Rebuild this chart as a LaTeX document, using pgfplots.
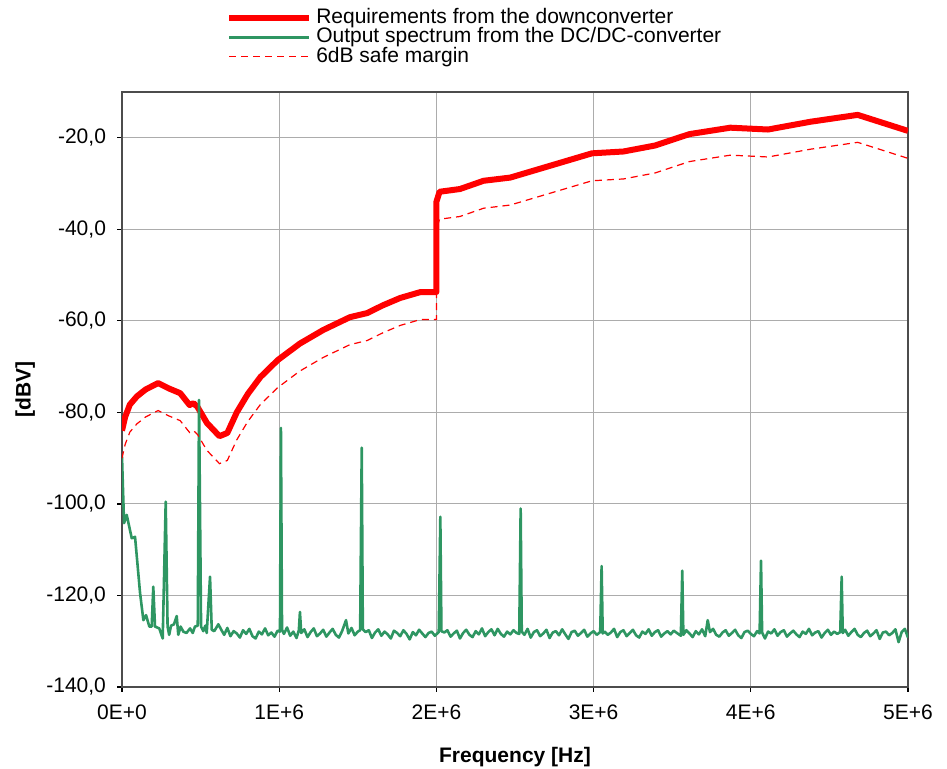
\documentclass[border=0pt]{standalone}
\usepackage{fontspec}
\setmainfont{Liberation Sans}
\usepackage{pgfplots}
\pgfplotsset{compat=1.18}

\definecolor{reqred}{RGB}{255,0,0}
\definecolor{specgreen}{RGB}{46,150,98}

\begin{document}
\begin{tikzpicture}
\useasboundingbox (-61pt,-41pt) rectangle (412.5pt,343.5pt);
\begin{axis}[
    scale only axis,
    width=393pt, height=297.5pt,
    xmin=0, xmax=5,
    ymin=-140, ymax=-10,
    xtick={0,1,2,3,4,5},
    xticklabels={0E+0,1E+6,2E+6,3E+6,4E+6,5E+6},
    ytick={-140,-120,-100,-80,-60,-40,-20},
    yticklabels={{-140,0},{-120,0},{-100,0},{-80,0},{-60,0},{-40,0},{-20,0}},
    font=\fontsize{10.5}{12.6}\selectfont,
    tick align=outside,
    major tick length=2.5pt,
    tick style={black, line width=0.6pt},
    xtick pos=bottom, ytick pos=left,
    grid=major,
    major grid style={gray!65, line width=0.5pt},
    axis line style={draw=black!70, line width=1pt},
    xticklabel style={yshift=-3pt},
    yticklabel style={xshift=-2pt},
    xlabel={\textbf{Frequency [Hz]}},
    ylabel={\textbf{[dBV]}},
    xlabel style={at={(axis description cs:0.5,-0.118)}, anchor=center},
    ylabel style={at={(axis description cs:-0.123,0.5)}, anchor=center, rotate=0},
    legend style={draw=none, fill=none, at={(0.1245,1.148)}, anchor=north west,
        font=\fontsize{10.5}{10}\selectfont,
        nodes={inner ysep=0pt, text height=7.6pt, text depth=2.1pt},
        /tikz/every even column/.append style={column sep=0pt}},
    legend cell align=left,
    legend image code/.code={\draw[#1] (0pt,0pt) -- (40pt,0pt);},
]
% requirements from the downconverter
\addplot[reqred, line width=3pt, line join=round] coordinates {
    (0.00,-84.0) (0.02,-81.0) (0.05,-78.3) (0.095,-76.5) (0.15,-75.0)
    (0.23,-73.6) (0.30,-74.8) (0.37,-75.8) (0.43,-78.4) (0.455,-78.0)
    (0.48,-78.8) (0.54,-82.3) (0.62,-85.2) (0.67,-84.5) (0.73,-80.0)
    (0.80,-76.0) (0.88,-72.3) (0.99,-68.6) (1.13,-65.0) (1.28,-62.0)
    (1.45,-59.2) (1.56,-58.3) (1.66,-56.6) (1.77,-55.0) (1.90,-53.7)
    (2.00,-53.7) (2.00,-34.0) (2.02,-31.8) (2.15,-31.2) (2.30,-29.4)
    (2.47,-28.7) (2.99,-23.4) (3.19,-23.0) (3.39,-21.7) (3.61,-19.2)
    (3.87,-17.8) (4.11,-18.2) (4.38,-16.5) (4.68,-15.0) (5.00,-18.5)
};
\addlegendentry{Requirements from the downconverter}

% output spectrum
\addplot[specgreen, line width=1.3pt, line join=round] coordinates {
    (0.000,-89.7) (0.013,-104.2) (0.030,-102.4) (0.062,-107.5) (0.083,-107.2)
    (0.115,-119.5) (0.136,-125.4) (0.153,-124.3) (0.174,-126.8) (0.189,-126.8)
    (0.199,-118.1) (0.210,-126.8) (0.237,-127.2) (0.259,-129.4) (0.278,-99.5)
    (0.290,-126.8) (0.300,-128.6) (0.312,-126.6) (0.331,-126.3) (0.348,-124.5)
    (0.358,-128.6) (0.373,-126.8) (0.390,-127.9) (0.410,-128.2) (0.433,-127.2)
    (0.450,-128.2) (0.464,-126.8) (0.482,-126.6) (0.490,-77.3) (0.503,-126.8)
    (0.517,-127.8) (0.530,-126.6) (0.539,-128.2) (0.560,-115.9) (0.571,-127.5)
    (0.587,-127.8) (0.613,-126.3) (0.63,-127.4) (0.65,-128.6) (0.67,-127.1)
    (0.69,-128.9) (0.71,-127.8) (0.73,-128.3) (0.75,-129.2) (0.77,-127.6)
    (0.79,-128.4) (0.81,-127.3) (0.83,-128.9) (0.85,-129.4) (0.87,-127.9)
    (0.89,-128.5) (0.91,-127.2) (0.93,-128.7) (0.95,-128.1) (0.97,-129.0)
    (0.99,-127.7) (1.005,-127.9) (1.011,-83.4) (1.018,-127.5) (1.03,-128.4)
    (1.05,-127.0) (1.07,-128.8) (1.09,-127.9) (1.11,-129.3) (1.125,-127.6)
    (1.132,-123.6) (1.14,-128.2) (1.16,-127.4) (1.18,-129.1) (1.20,-128.0)
    (1.22,-127.2) (1.24,-128.9) (1.26,-128.3) (1.28,-127.5) (1.30,-129.0)
    (1.32,-128.1) (1.34,-127.3) (1.36,-128.6) (1.38,-129.2) (1.40,-127.8)
    (1.425,-125.4) (1.44,-128.3) (1.46,-127.1) (1.48,-128.7) (1.50,-127.9)
    (1.515,-127.6) (1.525,-87.7) (1.532,-127.4) (1.55,-128.0) (1.57,-127.6)
    (1.59,-129.3) (1.61,-128.1) (1.63,-127.4) (1.65,-128.8) (1.67,-127.9)
    (1.69,-128.5) (1.71,-129.4) (1.73,-127.7) (1.75,-128.2) (1.77,-128.9)
    (1.79,-127.6) (1.81,-128.4) (1.83,-129.6) (1.85,-128.0) (1.87,-128.7)
    (1.89,-127.5) (1.91,-128.3) (1.93,-129.1) (1.95,-128.2) (1.97,-127.9)
    (1.99,-128.8) (2.015,-128.0) (2.025,-102.8) (2.032,-127.8) (2.05,-128.1)
    (2.07,-127.6) (2.09,-129.0) (2.11,-128.3) (2.13,-127.7) (2.15,-129.4)
    (2.17,-128.2) (2.19,-127.5) (2.21,-128.6) (2.23,-129.1) (2.25,-127.8)
    (2.27,-128.5) (2.29,-127.2) (2.31,-128.9) (2.33,-128.0) (2.35,-127.4)
    (2.37,-128.7) (2.39,-127.3) (2.41,-128.4) (2.43,-129.0) (2.45,-127.9)
    (2.47,-128.5) (2.49,-127.6) (2.51,-128.2) (2.527,-128.4) (2.536,-101.0)
    (2.543,-127.9) (2.56,-128.6) (2.58,-127.3) (2.60,-129.2) (2.62,-128.0)
    (2.64,-127.6) (2.66,-128.9) (2.68,-128.3) (2.70,-127.5) (2.72,-129.3)
    (2.74,-128.1) (2.76,-127.8) (2.78,-128.7) (2.80,-127.4) (2.82,-128.5)
    (2.84,-129.5) (2.86,-128.0) (2.88,-127.7) (2.90,-128.8) (2.92,-128.2)
    (2.94,-127.5) (2.96,-129.0) (2.98,-128.3) (3.00,-127.8) (3.02,-128.6)
    (3.042,-128.0) (3.051,-113.6) (3.058,-128.3) (3.07,-127.9) (3.09,-128.6)
    (3.11,-128.1) (3.13,-127.3) (3.15,-129.1) (3.17,-128.0) (3.19,-127.6)
    (3.21,-128.9) (3.23,-128.2) (3.25,-127.5) (3.27,-128.7) (3.29,-129.2)
    (3.31,-127.9) (3.33,-128.4) (3.35,-127.4) (3.37,-128.8) (3.39,-128.0)
    (3.41,-127.6) (3.43,-129.0) (3.45,-128.3) (3.47,-127.8) (3.49,-128.5)
    (3.51,-127.7) (3.53,-128.2) (3.555,-128.8) (3.564,-114.6) (3.571,-128.6)
    (3.59,-127.6) (3.61,-128.3) (3.63,-129.1) (3.65,-127.8) (3.67,-128.5)
    (3.69,-127.4) (3.71,-128.9) (3.726,-125.4) (3.74,-128.0) (3.76,-127.3)
    (3.78,-128.6) (3.80,-129.0) (3.82,-128.1) (3.84,-127.6) (3.86,-128.8)
    (3.88,-128.2) (3.90,-127.5) (3.92,-128.7) (3.94,-129.3) (3.96,-128.0)
    (3.98,-127.7) (4.00,-128.4) (4.02,-128.9) (4.04,-127.8) (4.056,-128.3)
    (4.065,-112.4) (4.072,-128.1) (4.09,-129.4) (4.11,-127.9) (4.13,-128.3)
    (4.15,-127.4) (4.17,-128.8) (4.19,-128.0) (4.21,-127.6) (4.23,-129.0)
    (4.25,-128.3) (4.27,-127.7) (4.29,-128.5) (4.31,-129.1) (4.33,-127.9)
    (4.35,-128.4) (4.37,-127.3) (4.39,-128.7) (4.41,-128.1) (4.43,-127.8)
    (4.45,-129.2) (4.47,-128.2) (4.49,-127.5) (4.51,-128.6) (4.53,-127.9)
    (4.55,-128.4) (4.569,-128.0) (4.578,-115.9) (4.585,-128.2) (4.60,-127.5)
    (4.62,-128.8) (4.64,-128.0) (4.66,-127.3) (4.68,-128.6) (4.70,-129.1)
    (4.72,-128.2) (4.74,-127.7) (4.76,-128.9) (4.78,-128.3) (4.80,-127.6)
    (4.82,-129.5) (4.84,-128.1) (4.86,-127.9) (4.88,-128.7) (4.90,-128.2)
    (4.92,-127.4) (4.94,-130.2) (4.96,-128.0) (4.98,-127.3) (5.00,-129.2)
};
\addlegendentry{Output spectrum from the DC/DC-converter}

% 6 dB safe margin
\addplot[reqred, line width=0.6pt, dash pattern=on 3.5pt off 2.5pt] coordinates {
    (0.00,-90.0) (0.02,-87.0) (0.05,-84.3) (0.095,-82.5) (0.15,-81.0)
    (0.23,-79.6) (0.30,-80.8) (0.37,-81.8) (0.43,-84.4) (0.455,-84.0)
    (0.48,-84.8) (0.54,-88.3) (0.62,-91.2) (0.67,-90.5) (0.73,-86.0)
    (0.80,-82.0) (0.88,-78.3) (0.99,-74.6) (1.13,-71.0) (1.28,-68.0)
    (1.45,-65.2) (1.56,-64.3) (1.66,-62.6) (1.77,-61.0) (1.90,-59.7)
    (2.00,-59.7) (2.00,-40.0) (2.02,-37.8) (2.15,-37.2) (2.30,-35.4)
    (2.47,-34.7) (2.99,-29.4) (3.19,-29.0) (3.39,-27.7) (3.61,-25.2)
    (3.87,-23.8) (4.11,-24.2) (4.38,-22.5) (4.68,-21.0) (5.00,-24.5)
};
\addlegendentry{6dB safe margin}
\end{axis}
\end{tikzpicture}
\end{document}
